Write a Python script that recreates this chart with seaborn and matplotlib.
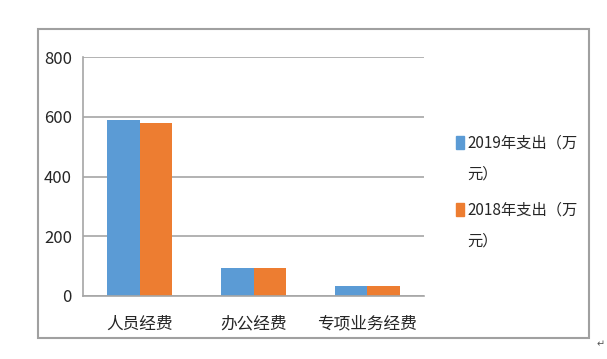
import pandas as pd
import matplotlib.pyplot as plt
import seaborn as sns
from matplotlib.patches import Rectangle

# data
categories = ['人员经费', '办公经费', '专项业务经费']
series_names = ['2019年支出（万元）', '2018年支出（万元）']
values_2019 = [590, 95, 33]
values_2018 = [580, 95, 33]
legend_lines = [['2019年支出（万', '元）'], ['2018年支出（万', '元）']]
colors = ['#5B9BD5', '#ED7D31']
yticks = [0, 200, 400, 600, 800]

df = pd.DataFrame({
    'cat': categories * 2,
    'series': [series_names[0]] * 3 + [series_names[1]] * 3,
    'value': values_2019 + values_2018,
})

sns.set_style('white')
plt.rcParams['font.family'] = ['Noto Sans CJK SC', 'DejaVu Sans']

fig = plt.figure(figsize=(6.07, 3.59), dpi=100)
ax = fig.add_axes([83 / 607, 1 - 296 / 359, (424 - 83) / 607, (296 - 57) / 359])

sns.barplot(data=df, x='cat', y='value', hue='series', hue_order=series_names,
            palette=colors, width=0.57, saturation=1, ax=ax, legend=False,
            linewidth=0)

gray = '#A6A6A6'
ax.set_ylim(0, 800)
ax.set_xlim(-0.5, 2.5)
ax.set_yticks(yticks)
ax.set_yticklabels([str(v) for v in yticks], fontsize=12)
ax.yaxis.grid(True, color=gray, linewidth=1.2)
ax.set_axisbelow(True)
ax.set_xlabel('')
ax.set_ylabel('')

# category ticks between groups
ax.set_xticks([0, 1, 2])
ax.set_xticklabels(categories, fontsize=12)
ax.tick_params(axis='x', length=0, pad=14)
ax.set_xticks([-0.5, 0.5, 1.5, 2.5], minor=True)
ax.tick_params(axis='x', which='minor', length=6, color=gray, width=1.2)
ax.tick_params(axis='y', length=4, color=gray, width=1.2, pad=4)

for s in ['top', 'right']:
    ax.spines[s].set_visible(False)
for s in ['left', 'bottom']:
    ax.spines[s].set_color(gray)
    ax.spines[s].set_linewidth(1.2)

# outer chart border
fig.patches.append(Rectangle((38 / 607, 1 - 338 / 359), (589 - 38) / 607, (338 - 29) / 359,
                             transform=fig.transFigure, fill=False,
                             edgecolor='#A0A0A0', linewidth=1.5))

# legend drawn by hand because labels wrap
for i, (lines, col) in enumerate(zip(legend_lines, colors)):
    y0 = 143 + i * 67
    fig.patches.append(Rectangle((456 / 607, 1 - (y0 + 6) / 359), 8 / 607, 13 / 359,
                                 transform=fig.transFigure, color=col))
    fig.text(467 / 607, 1 - y0 / 359, lines[0], fontsize=11, va='center')
    fig.text(467 / 607, 1 - (y0 + 31) / 359, lines[1], fontsize=11, va='center')

fig.text(597 / 607, 1 - 344 / 359, '↵', fontsize=7, color='#555555',
         family=['DejaVu Sans'], va='center')

fig.savefig('out.png', dpi=100)
